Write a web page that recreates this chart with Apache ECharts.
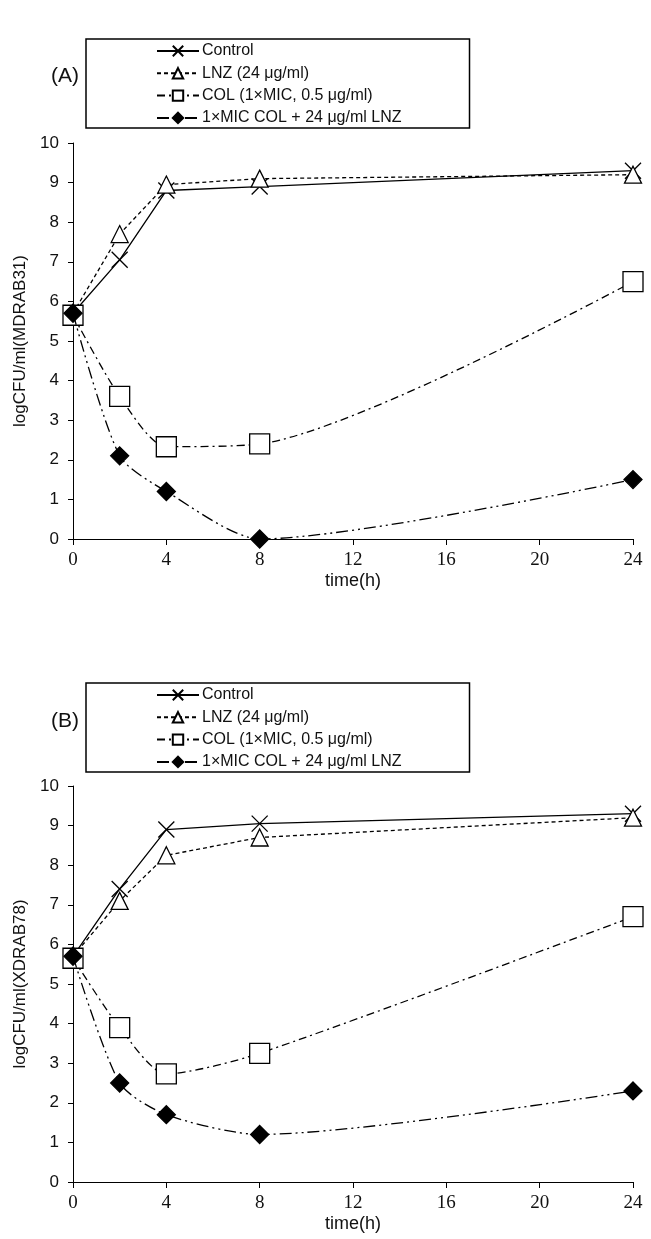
<!DOCTYPE html>
<html><head><meta charset="utf-8">
<script src="https://cdn.jsdelivr.net/npm/echarts@6/dist/echarts.min.js"></script>
<style>html,body{margin:0;padding:0;background:#fff}#c{width:651px;height:1239px}</style>
</head><body><div id="c"></div>
<script>
const times = [0, 2, 4, 8, 24];
const seriesNames = ['Control', 'LNZ (24 μg/ml)', 'COL (1×MIC, 0.5 μg/ml)', '1×MIC COL + 24 μg/ml LNZ'];
const xTicks = [0, 4, 8, 12, 16, 20, 24];
const yTicks = [0, 1, 2, 3, 4, 5, 6, 7, 8, 9, 10];
// Panel A (MDRAB31)
const controlA = [5.7, 7.05, 8.8, 8.9, 9.3];
const lnzA = [5.7, 7.7, 8.95, 9.1, 9.2];
const colA = [5.65, 3.6, 2.33, 2.4, 6.5];
const comboA = [5.7, 2.1, 1.2, 0, 1.5];
// Panel B (XDRAB78)
const controlB = [5.7, 7.4, 8.9, 9.05, 9.3];
const lnzB = [5.7, 7.1, 8.25, 8.7, 9.2];
const colB = [5.65, 3.9, 2.73, 3.25, 6.7];
const comboB = [5.7, 2.5, 1.7, 1.2, 2.3];

const pairs = (ys) => times.map((t, i) => [t, ys[i]]);
const crossPath = 'path://M0,0L10,10M10,0L0,10';
const styles = [
  {symbol: crossPath, symbolSize: 16, type: 'solid', fill: 'rgba(0,0,0,0)', smooth: false},
  {symbol: 'triangle', symbolSize: 17, type: [4, 3], fill: '#fff', smooth: false},
  {symbol: 'rect', symbolSize: 20, type: [8, 4, 2, 4], fill: '#fff', smooth: 0.25},
  {symbol: 'diamond', symbolSize: 18, type: [12, 4, 2, 4, 2, 4], fill: '#000', smooth: 0.25}
];
function mkSeries(idx, data, gi) {
  const s = styles[idx];
  return {
    name: seriesNames[idx], type: 'line', xAxisIndex: gi, yAxisIndex: gi,
    data: pairs(data), symbol: s.symbol, symbolSize: s.symbolSize, smooth: s.smooth,
    showAllSymbol: true, animation: false, z: 2 + idx,
    lineStyle: {color: '#000', width: 1.3, type: s.type},
    itemStyle: {color: s.fill, borderColor: '#000', borderWidth: 1.3}
  };
}
const gridsTop = [143, 786];
const xAxis = [], yAxis = [], grid = [];
const yNames = ['logCFU/ml(MDRAB31)', 'logCFU/ml(XDRAB78)'];
[0, 1].forEach(gi => {
  grid.push({left: 73, top: gridsTop[gi], width: 560, height: 396, containLabel: false});
  xAxis.push({
    type: 'value', gridIndex: gi, min: 0, max: 24, interval: 4,
    name: 'time(h)', nameLocation: 'middle', nameGap: 33,
    nameTextStyle: {fontFamily: 'Liberation Sans', fontSize: 18, color: '#111'},
    axisLine: {lineStyle: {color: '#000', width: 1}},
    axisTick: {show: true, length: 6, lineStyle: {color: '#000'}},
    axisLabel: {fontFamily: 'Liberation Serif', fontSize: 19, color: '#111', margin: 12},
    splitLine: {show: false}
  });
  yAxis.push({
    type: 'value', gridIndex: gi, min: 0, max: 10, interval: 1,
    name: yNames[gi], nameLocation: 'middle', nameGap: 44,
    nameTextStyle: {fontFamily: 'Liberation Sans', fontSize: 17, color: '#111'},
    axisLine: {show: true, lineStyle: {color: '#000', width: 1}},
    axisTick: {show: true, length: 5, lineStyle: {color: '#000'}},
    axisLabel: {fontFamily: 'Liberation Sans', fontSize: 17, color: '#111', margin: 14},
    splitLine: {show: false}
  });
});
const legendTops = [39, 683];
const legend = legendTops.map((t, gi) => ({
  data: seriesNames,
  orient: 'vertical', left: 86, top: t,
  itemWidth: 42, itemHeight: 13, itemGap: 6.3,
  padding: [4, 68, 2, 70],
  borderColor: '#000', borderWidth: 1.5,
  textStyle: {fontFamily: 'Liberation Sans', fontSize: 16, color: '#111', padding: [0,0,0,-2]},
  selectedMode: false
}));
const series = [];
[[controlA, lnzA, colA, comboA], [controlB, lnzB, colB, comboB]].forEach((set, gi) => {
  set.forEach((d, idx) => series.push(mkSeries(idx, d, gi)));
});
const chart = echarts.init(document.getElementById('c'), null, {renderer: 'canvas'});
chart.setOption({
  backgroundColor: '#fff',
  animation: false,
  title: [
    {text: '(A)', left: 46, top: 61, textStyle: {fontFamily: 'Liberation Sans', fontSize: 21, fontWeight: 'normal', color: '#111'}},
    {text: '(B)', left: 46, top: 706, textStyle: {fontFamily: 'Liberation Sans', fontSize: 21, fontWeight: 'normal', color: '#111'}}
  ],
  legend: legend,
  grid: grid, xAxis: xAxis, yAxis: yAxis, series: series
});
</script></body></html>
